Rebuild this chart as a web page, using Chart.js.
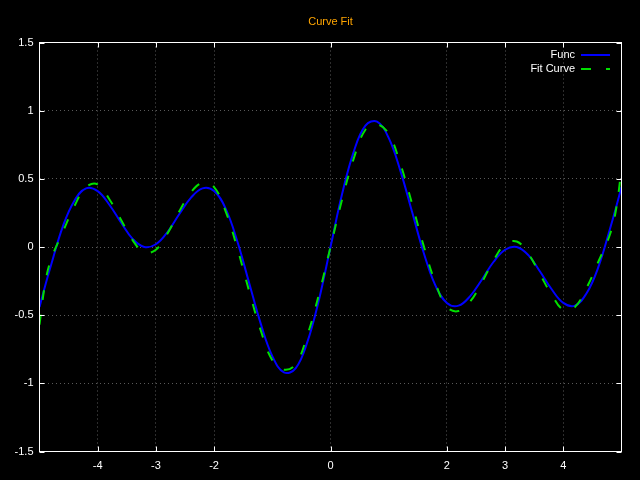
<!DOCTYPE html>
<html>
<head>
<meta charset="utf-8">
<script src="https://cdn.jsdelivr.net/npm/chart.js@4.4.1/dist/chart.umd.min.js"></script>
<style>
  html, body { margin: 0; padding: 0; background: #000; }
  #wrap { width: 640px; height: 480px; }
</style>
</head>
<body>
<div id="wrap"><canvas id="fit" width="640" height="480"></canvas></div>
<script>
// values
const xs = [-5, -4.9, -4.8, -4.6, -4.4, -4.2, -4, -3.8, -3.6, -3.4, -3.2, -3, -2.8, -2.6, -2.4, -2.2, -2, -1.8, -1.6, -1.4, -1.2, -1, -0.8, -0.6, -0.4, -0.2,
  0, 0.2, 0.4, 0.6, 0.8, 1, 1.2, 1.4, 1.6, 1.8, 2, 2.2, 2.4, 2.6, 2.8, 3, 3.2, 3.4, 3.6, 3.8, 4, 4.2, 4.4, 4.6, 4.8, 4.9, 5];
const funcVals = [-0.44, -0.28, -0.13, 0.15, 0.34, 0.43, 0.41, 0.31, 0.18, 0.06, 0.00, 0.02, 0.11, 0.24, 0.36, 0.43, 0.41, 0.28, 0.04, -0.26, -0.56, -0.80, -0.92, -0.89, -0.70, -0.39,
  0, 0.39, 0.70, 0.89, 0.92, 0.80, 0.56, 0.26, -0.04, -0.28, -0.41, -0.43, -0.36, -0.24, -0.11, -0.02, 0.00, -0.06, -0.18, -0.31, -0.41, -0.43, -0.34, -0.15, 0.13, 0.28, 0.44];
const fitVals = [-0.57, -0.26, -0.09, 0.11, 0.30, 0.44, 0.46, 0.35, 0.20, 0.05, -0.04, -0.02, 0.10, 0.26, 0.40, 0.47, 0.44, 0.26, -0.01, -0.32, -0.61, -0.83, -0.90, -0.86, -0.65, -0.35,
  0, 0.35, 0.65, 0.86, 0.90, 0.83, 0.61, 0.32, 0.01, -0.26, -0.44, -0.47, -0.40, -0.26, -0.10, 0.02, 0.04, -0.05, -0.20, -0.35, -0.46, -0.44, -0.30, -0.11, 0.09, 0.26, 0.57];
const xTicks = [-4, -3, -2, 0, 2, 3, 4];
const yTicks = [-1.5, -1, -0.5, 0, 0.5, 1, 1.5];
const seriesNames = ['Func', 'Fit Curve'];
const chartTitle = 'Curve Fit';

const FONT = 'Arial, "Liberation Sans", sans-serif';

function toPoints(vals) {
  return xs.map((x, i) => ({ x: x, y: vals[i] }));
}

// black page, frame with inward ticks on all sides, title and legend inside the plot
const gnuplotLook = {
  id: 'gnuplotLook',
  beforeDraw(chart) {
    const ctx = chart.ctx;
    ctx.save();
    ctx.fillStyle = '#000';
    ctx.fillRect(0, 0, chart.width, chart.height);
    ctx.restore();
  },
  afterDatasetsDraw(chart) {
    const { ctx, chartArea: a, scales } = chart;
    ctx.save();
    ctx.strokeStyle = '#fff';
    ctx.lineWidth = 1;
    ctx.setLineDash([]);
    ctx.strokeRect(a.left, a.top, a.right - a.left, a.bottom - a.top);

    ctx.beginPath();
    scales.x.ticks.forEach(t => {
      const px = Math.round(scales.x.getPixelForValue(t.value)) + 0.5;
      ctx.moveTo(px, a.bottom); ctx.lineTo(px, a.bottom - 5);
      ctx.moveTo(px, a.top); ctx.lineTo(px, a.top + 5);
    });
    scales.y.ticks.forEach(t => {
      const py = Math.round(scales.y.getPixelForValue(t.value)) + 0.5;
      ctx.moveTo(a.left, py); ctx.lineTo(a.left + 5, py);
      ctx.moveTo(a.right, py); ctx.lineTo(a.right - 5, py);
    });
    ctx.stroke();

    // title
    ctx.fillStyle = '#ffa500';
    ctx.font = '11px ' + FONT;
    ctx.textAlign = 'center';
    ctx.textBaseline = 'middle';
    ctx.fillText(chartTitle, (a.left + a.right) / 2, 22);

    // legend
    ctx.textAlign = 'right';
    chart.data.datasets.forEach((ds, i) => {
      const y = a.top + 12.5 + i * 14;
      ctx.fillStyle = '#fff';
      ctx.fillText(ds.label, a.right - 46.5, y);
      ctx.strokeStyle = ds.borderColor;
      ctx.lineWidth = ds.borderWidth;
      ctx.setLineDash(ds.borderDash || []);
      ctx.beginPath();
      ctx.moveTo(a.right - 40.5, y);
      ctx.lineTo(a.right - 11.5, y);
      ctx.stroke();
    });
    ctx.restore();
  }
};

new Chart(document.getElementById('fit'), {
  type: 'line',
  data: {
    datasets: [{
      label: seriesNames[0],
      data: toPoints(funcVals),
      borderColor: '#0000ff',
      borderWidth: 2,
      pointRadius: 0,
      tension: 0.4,
      order: 1
    }, {
      label: seriesNames[1],
      data: toPoints(fitVals),
      borderColor: '#00e000',
      borderWidth: 2,
      borderDash: [10, 15],
      pointRadius: 0,
      tension: 0.4,
      order: 0
    }]
  },
  options: {
    responsive: false,
    animation: false,
    devicePixelRatio: 1,
    layout: { padding: { top: 42.5, right: 18.5, left: 0, bottom: 0 } },
    plugins: {
      legend: { display: false },
      title: { display: false },
      tooltip: { enabled: false }
    },
    scales: {
      x: {
        type: 'linear',
        min: -5,
        max: 5,
        afterBuildTicks: s => { s.ticks = xTicks.map(v => ({ value: v })); },
        afterFit: s => { s.height = 28.5; },
        ticks: { color: '#fff', font: { family: FONT, size: 11 }, padding: 8, autoSkip: false, maxRotation: 0,
          callback: v => String(v) },
        grid: { color: '#5a5a5a', lineWidth: 1, drawTicks: false },
        border: { display: false, dash: [1, 3] }
      },
      y: {
        type: 'linear',
        min: -1.5,
        max: 1.5,
        afterBuildTicks: s => { s.ticks = yTicks.map(v => ({ value: v })); },
        afterFit: s => { s.width = 39.5; },
        ticks: { color: '#fff', font: { family: FONT, size: 11 }, padding: 6, callback: v => String(v) },
        grid: { color: '#5a5a5a', lineWidth: 1, drawTicks: false },
        border: { display: false, dash: [1, 3] }
      }
    }
  },
  plugins: [gnuplotLook]
});
</script>
</body>
</html>
